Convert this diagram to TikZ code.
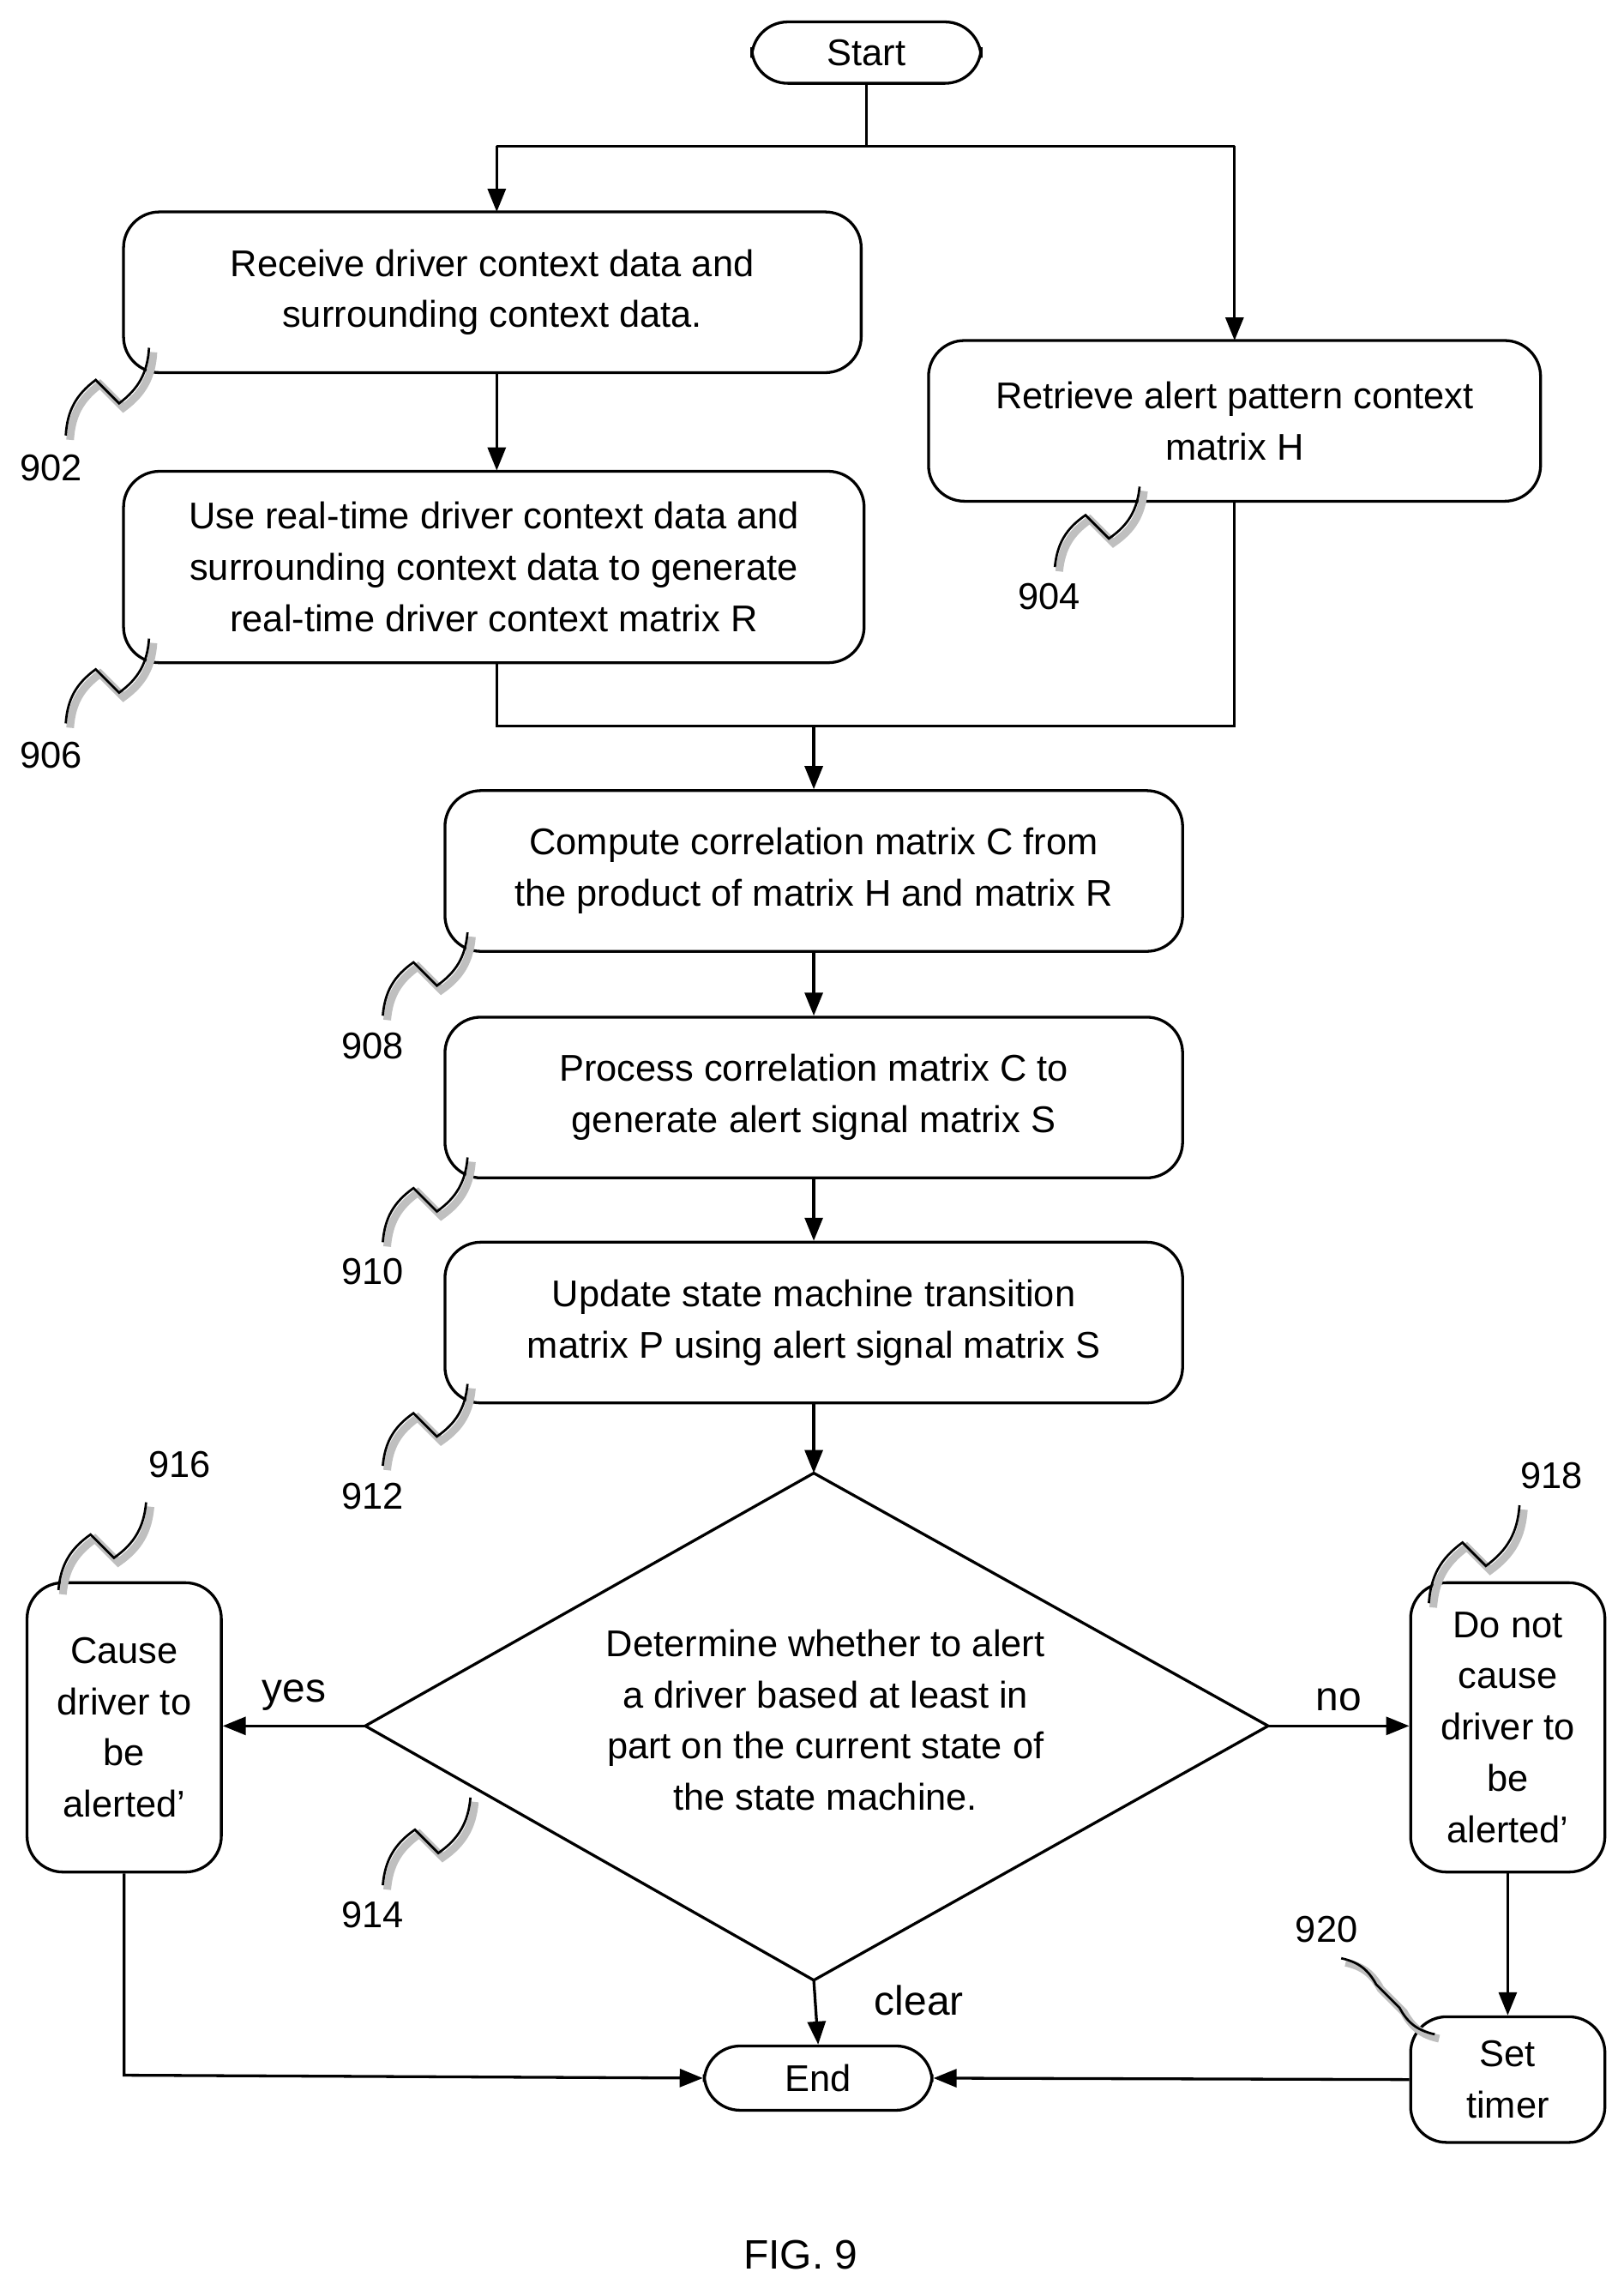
\documentclass[tikz,border=0pt]{standalone}
\usepackage{fontspec}
\setmainfont{Liberation Sans}
\usetikzlibrary{arrows.meta,calc}
\begin{document}
\begin{tikzpicture}[x=0.02cm,y=-0.02cm,
  box/.style={draw,line width=1.1pt,rounded corners=14pt,align=center,inner sep=0pt,font=\fontsize{14.5}{20}\selectfont},
  lbl/.style={font=\fontsize{14.5}{18}\selectfont},
  arr/.style={line width=1.1pt,-{Triangle[length=9pt,width=7pt]}},
  ln/.style={line width=1.1pt},
  sq/.style={line width=0.9pt}]
\useasboundingbox (0,0) rectangle (1111,1567);
\newcommand{\squig}[4]{%
  \coordinate (q1) at (#1,#2); \coordinate (q2) at (#3,#4);
  \draw[gray!50,line width=3pt] ($(q1)+(3,3)$) to[bend left=25] ($($(q1)!0.5!(q2)$)+(-8,-8)+(3,3)$) -- ($($(q1)!0.5!(q2)$)+(8,8)+(3,3)$) to[bend right=25] ($(q2)+(3,3)$);
  \draw[sq] (q1) to[bend left=25] ($($(q1)!0.5!(q2)$)+(-8,-8)$) -- ($($(q1)!0.5!(q2)$)+(8,8)$) to[bend right=25] (q2);}
\node[box,minimum width=3.14cm,minimum height=0.84cm] (st) at (593,36) {Start};
\node[box,minimum width=10.1cm,minimum height=2.2cm] (b902) at (337,200) {Receive driver context data and\\surrounding context data.};
\node[box,minimum width=8.38cm,minimum height=2.2cm] (b904) at (845,288) {Retrieve alert pattern context\\matrix H};
\node[box,minimum width=10.14cm,minimum height=2.62cm] (b906) at (338,388) {Use real-time driver context data and\\surrounding context data to generate\\real-time driver context matrix R};
\node[box,minimum width=10.1cm,minimum height=2.2cm] (b908) at (557,596) {Compute correlation matrix C from\\the product of matrix H and matrix R};
\node[box,minimum width=10.1cm,minimum height=2.2cm] (b910) at (557,751) {Process correlation matrix C to\\generate alert signal matrix S};
\node[box,minimum width=10.1cm,minimum height=2.2cm] (b912) at (557,905) {Update state machine transition\\matrix P using alert signal matrix S};
\coordinate (dt) at (557,1008); \coordinate (db) at (557,1355);
\coordinate (dl) at (250,1181); \coordinate (dr) at (868,1181);
\draw[ln] (dt) -- (dr) -- (db) -- (dl) -- cycle;
\node[box,draw=none] (dia) at (565,1177) {Determine whether to alert\\a driver based at least in\\part on the current state of\\the state machine.};
\node[box,minimum width=2.66cm,minimum height=3.96cm] (b916) at (85,1182) {Cause\\driver to\\be\\alerted’};
\node[box,minimum width=2.66cm,minimum height=3.96cm] (b918) at (1032,1182) {Do not\\cause\\driver to\\be\\alerted’};
\node[box,minimum width=3.12cm,minimum height=0.88cm] (end) at (560,1422) {End};
\node[box,minimum width=2.66cm,minimum height=1.72cm] (b920) at (1032,1423) {Set\\timer};
% connectors
\coordinate (j1) at (593,100);
\draw[ln] (st.south) -- (j1);
\draw[ln] (340,100) -- (845,100);
\draw[arr] (340,100) -- (340,145);
\draw[arr] (845,100) -- (845,233);
\draw[arr] (340,255) -- (340,322);
\draw[ln] (340,453) -- (340,497) -- (845,497) -- (845,343);
\draw[arr] (557,497) -- (b908.north);
\draw[arr] (b908) -- (b910);
\draw[arr] (b910) -- (b912);
\draw[arr] (b912.south) -- (dt);
\draw[arr] (dl) -- (b916.east |- dl) node[lbl,midway,above=2pt] {\fontsize{16}{18}\selectfont yes};
\draw[arr] (dr) -- (b918.west |- dr) node[lbl,midway,above=2pt] {\fontsize{16}{18}\selectfont no};
\draw[arr] (db) -- (end.north);
\node[lbl,font=\fontsize{16}{18}\selectfont] at (629,1369) {clear};
\draw[arr] (b916.south) -- (85,1420) -- (end.west);
\draw[arr] (b920.west) -- (end.east);
\draw[arr] (b918.south) -- (b920.north);
% reference labels
\node[lbl] at (35,320) {902};
\node[lbl] at (35,517) {906};
\node[lbl] at (718,408) {904};
\node[lbl] at (255,716) {908};
\node[lbl] at (255,870) {910};
\node[lbl] at (255,1024) {912};
\node[lbl] at (255,1310) {914};
\node[lbl] at (123,1002) {916};
\node[lbl] at (1062,1010) {918};
\node[lbl] at (908,1320) {920};
\squig{45}{298}{102}{238}
\squig{45}{495}{102}{437}
\draw[ln] (705,343) -- (800,343);
\squig{722}{388}{780}{333}
\squig{262}{695}{320}{638}
\squig{262}{850}{320}{792}
\squig{262}{1003}{320}{947}
\squig{262}{1290}{322}{1230}
\squig{40}{1088}{100}{1028}
\squig{978}{1097}{1040}{1030}
\squig{918}{1340}{982}{1392}
\node[font=\fontsize{16}{18}\selectfont] at (548,1543) {FIG. 9};
\end{tikzpicture}
\end{document}
